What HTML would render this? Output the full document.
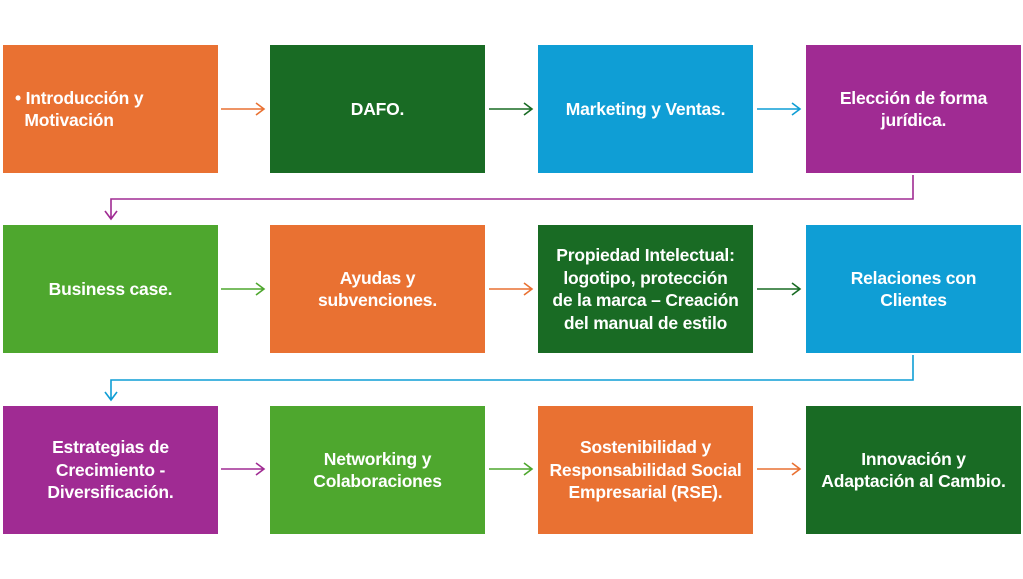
<!DOCTYPE html><html><head><style>
body{margin:0;width:1023px;height:579px;background:#fff;position:relative;overflow:hidden;font-family:"Liberation Sans",sans-serif}
.b{position:absolute;width:215px;height:128px;display:flex;align-items:center;justify-content:center;text-align:center;color:#fff;font-weight:bold;font-size:17.5px;line-height:22.5px;box-sizing:border-box;padding:0 4px;letter-spacing:-0.2px}
.o{background:#E97132}.g{background:#196B24}.u{background:#0F9ED5}.p{background:#A02B93}.l{background:#4EA72E}
svg{position:absolute;left:0;top:0}
</style></head><body>
<div class="b o" style="left:3px;top:45px;justify-content:flex-start;text-align:left;padding-left:12px">• Introducción y<br>&nbsp;&nbsp;Motivación</div>
<div class="b g" style="left:270px;top:45px">DAFO.</div>
<div class="b u" style="left:538px;top:45px">Marketing y Ventas.</div>
<div class="b p" style="left:806px;top:45px">Elección de forma<br>jurídica.</div>
<div class="b l" style="left:3px;top:225px">Business case.</div>
<div class="b o" style="left:270px;top:225px">Ayudas y<br>subvenciones.</div>
<div class="b g" style="left:538px;top:225px">Propiedad Intelectual:<br>logotipo, protección<br>de la marca – Creación<br>del manual de estilo</div>
<div class="b u" style="left:806px;top:225px">Relaciones con<br>Clientes</div>
<div class="b p" style="left:3px;top:406px">Estrategias de<br>Crecimiento -<br>Diversificación.</div>
<div class="b l" style="left:270px;top:406px">Networking y<br>Colaboraciones</div>
<div class="b o" style="left:538px;top:406px">Sostenibilidad y<br>Responsabilidad Social<br>Empresarial (RSE).</div>
<div class="b g" style="left:806px;top:406px">Innovación y<br>Adaptación al Cambio.</div>
<svg width="1023" height="579" fill="none" stroke-width="1.6">
<g stroke="#E97132"><path d="M221 109H264M256 103L264 109L256 115"/></g>
<g stroke="#196B24"><path d="M489 109H532M524 103L532 109L524 115"/></g>
<g stroke="#0F9ED5"><path d="M757 109H800M792 103L800 109L792 115"/></g>
<g stroke="#A02B93"><path d="M913 175V199H111V219M105 211L111 219L117 211"/></g>
<g stroke="#4EA72E"><path d="M221 289H264M256 283L264 289L256 295"/></g>
<g stroke="#E97132"><path d="M489 289H532M524 283L532 289L524 295"/></g>
<g stroke="#196B24"><path d="M757 289H800M792 283L800 289L792 295"/></g>
<g stroke="#0F9ED5"><path d="M913 355V380H111V400M105 392L111 400L117 392"/></g>
<g stroke="#A02B93"><path d="M221 469H264M256 463L264 469L256 475"/></g>
<g stroke="#4EA72E"><path d="M489 469H532M524 463L532 469L524 475"/></g>
<g stroke="#E97132"><path d="M757 469H800M792 463L800 469L792 475"/></g>
</svg>
</body></html>
